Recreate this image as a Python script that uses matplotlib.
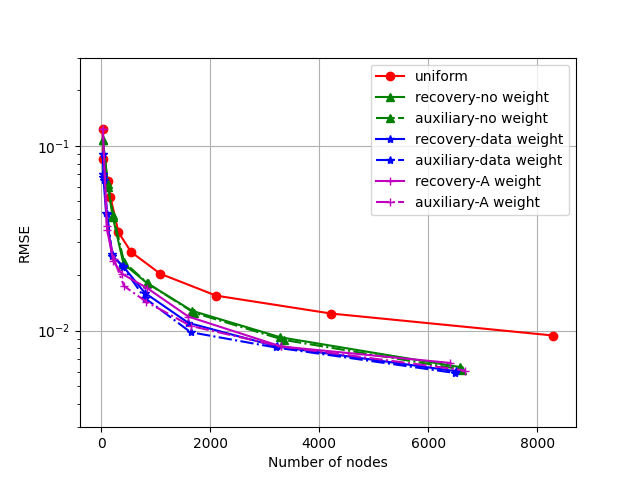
import matplotlib
matplotlib.use("Agg")
import matplotlib.pyplot as plt

# uniform refinement
uni_x = [25, 40, 120, 170, 317, 550, 1083, 2110, 4220, 8294]
uni_y = [0.1236, 0.0847, 0.0647, 0.0528, 0.034, 0.0266, 0.0203, 0.01545, 0.01236, 0.0094]

# no weight
rec_nw_x = [30, 122, 214, 409, 838, 1664, 3284, 6587]
rec_nw_y = [0.108, 0.060, 0.041, 0.023, 0.0181, 0.0128, 0.0092, 0.00634]
aux_nw_x = [30, 125, 220, 420, 850, 1700, 3350, 6624]
aux_nw_y = [0.108, 0.062, 0.042, 0.0235, 0.018, 0.0125, 0.0089, 0.00615]

# data weight
rec_dw_x = [30, 40, 90, 200, 400, 800, 1600, 3220, 6500]
rec_dw_y = [0.090, 0.068, 0.0433, 0.0254, 0.0223, 0.016, 0.0110, 0.0082, 0.00603]
aux_dw_x = [25, 60, 110, 200, 400, 800, 1640, 3200, 6480]
aux_dw_y = [0.070, 0.065, 0.043, 0.026, 0.022, 0.015, 0.0098, 0.0081, 0.0059]

# A weight
rec_aw_x = [30, 110, 225, 380, 840, 1600, 3300, 6404]
rec_aw_y = [0.1236, 0.035, 0.0237, 0.0203, 0.017, 0.0119, 0.0082, 0.00668]
aux_aw_x = [30, 100, 230, 420, 830, 1640, 3300, 6679]
aux_aw_y = [0.1236, 0.037, 0.0245, 0.0174, 0.0143, 0.0106, 0.0082, 0.00608]

fig, ax = plt.subplots(figsize=(6.4, 4.8), dpi=100)
ax.semilogy(uni_x, uni_y, "r-o", label="uniform")
ax.semilogy(rec_nw_x, rec_nw_y, "g-^", label="recovery-no weight")
ax.semilogy(aux_nw_x, aux_nw_y, "g-.^", label="auxiliary-no weight")
ax.semilogy(rec_dw_x, rec_dw_y, "b-*", label="recovery-data weight")
ax.semilogy(aux_dw_x, aux_dw_y, "b-.*", label="auxiliary-data weight")
ax.semilogy(rec_aw_x, rec_aw_y, "m-+", label="recovery-A weight")
ax.semilogy(aux_aw_x, aux_aw_y, "m-.+", label="auxiliary-A weight")
ax.set_ylim(0.003, 0.3)
ax.set_xlabel("Number of nodes")
ax.set_ylabel("RMSE")
ax.grid(True)
ax.legend(loc="upper right")
fig.savefig("out.png")
